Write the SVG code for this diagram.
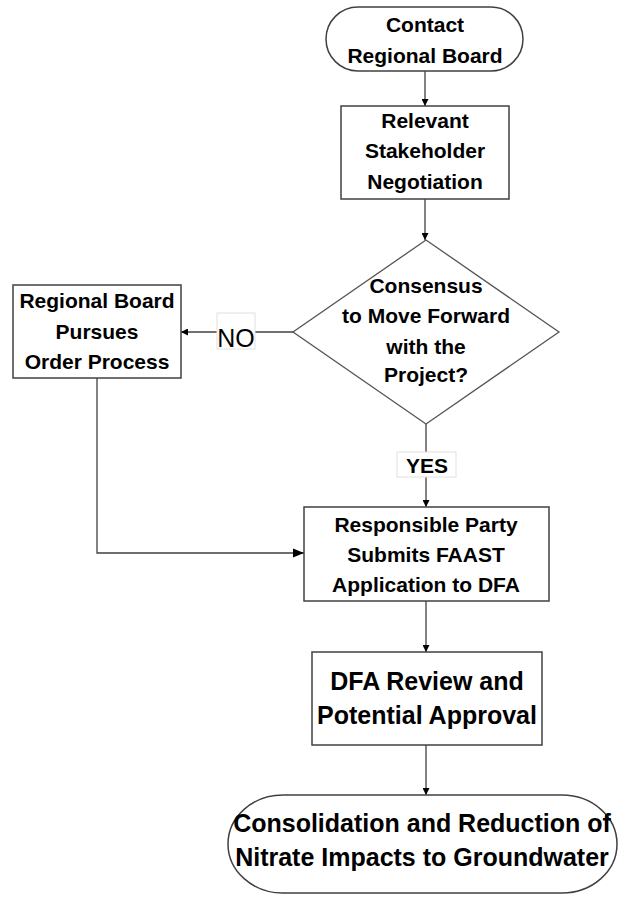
<svg xmlns="http://www.w3.org/2000/svg" width="619" height="899" viewBox="0 0 619 899">
<style>
.shape{fill:#fff;stroke:#404040;stroke-width:1.5}
.dia{fill:#fff;stroke:#555;stroke-width:1.3}
.t{font-family:"Liberation Sans",Arial,sans-serif;font-weight:700;font-size:21px;fill:#000;text-anchor:middle}
.big{font-size:25px}
.lbl{fill:#fff;stroke:#e0e0e0;stroke-width:1}
.conn{fill:none;stroke:#404040;stroke-width:1.3}
</style>
<defs>
<marker id="arr" viewBox="0 0 10 10" refX="10" refY="5" markerWidth="7" markerHeight="7" markerUnits="userSpaceOnUse" orient="auto">
<path d="M0,0 L10,5 L0,10 z" fill="#000"/>
</marker>
<marker id="arrL" viewBox="0 0 10 10" refX="10" refY="5" markerWidth="11" markerHeight="11" markerUnits="userSpaceOnUse" orient="auto">
<path d="M0,1 L10,5 L0,9 z" fill="#000"/>
</marker>
</defs>
<g id="connectors">
<line class="conn" x1="425" y1="71" x2="425" y2="106" marker-end="url(#arr)"/>
<line class="conn" x1="425" y1="199" x2="425" y2="240" marker-end="url(#arr)"/>
<line class="conn" x1="293" y1="332" x2="181" y2="332" marker-end="url(#arr)"/>
<line class="conn" x1="426" y1="424" x2="426" y2="507" marker-end="url(#arr)"/>
<polyline class="conn" points="97,378 97,553 304,553" marker-end="url(#arrL)"/>
<line class="conn" x1="426" y1="601" x2="426" y2="652" marker-end="url(#arr)"/>
<line class="conn" x1="426" y1="745" x2="426" y2="795" marker-end="url(#arr)"/>
<g id="label-no">
<rect class="lbl" x="217" y="313" width="38" height="36"/>
<text x="236" y="347" style="font-family:'Liberation Sans',Arial,sans-serif;font-size:25px;fill:#000;text-anchor:middle">NO</text>
</g>
<g id="label-yes">
<rect class="lbl" x="397" y="452" width="59" height="25"/>
<text class="t" x="427" y="473">YES</text>
</g>
</g>
<g id="start">
<rect class="shape" x="326" y="7" width="197" height="64" rx="32" ry="32"/>
<text class="t" x="425" y="32">Contact</text>
<text class="t" x="425" y="63">Regional Board</text>
</g>
<g id="negotiation">
<rect class="shape" x="341" y="106" width="168" height="93"/>
<text class="t" x="425" y="128">Relevant</text>
<text class="t" x="425" y="158">Stakeholder</text>
<text class="t" x="425" y="189">Negotiation</text>
</g>
<g id="decision">
<polygon class="dia" points="426,240 559,332 426,424 293,332"/>
<text class="t" x="426" y="293">Consensus</text>
<text class="t" x="426" y="323">to Move Forward</text>
<text class="t" x="426" y="354">with the</text>
<text class="t" x="426" y="382">Project?</text>
</g>
<g id="order">
<rect class="shape" x="13" y="285" width="168" height="93"/>
<text class="t" x="97" y="308">Regional Board</text>
<text class="t" x="97" y="339">Pursues</text>
<text class="t" x="97" y="369">Order Process</text>
</g>
<g id="application">
<rect class="shape" x="304" y="507" width="245" height="94"/>
<text class="t" x="426" y="532">Responsible Party</text>
<text class="t" x="426" y="562">Submits FAAST</text>
<text class="t" x="426" y="592">Application to DFA</text>
</g>
<g id="review">
<rect class="shape" x="312" y="652" width="230" height="93"/>
<text class="t big" x="427" y="690">DFA Review and</text>
<text class="t big" x="427" y="724">Potential Approval</text>
</g>
<g id="end">
<rect class="shape" x="228" y="795" width="389" height="98" rx="55" ry="49"/>
<text class="t big" x="422" y="832">Consolidation and Reduction of</text>
<text class="t big" x="422" y="866">Nitrate Impacts to Groundwater</text>
</g>
</svg>
